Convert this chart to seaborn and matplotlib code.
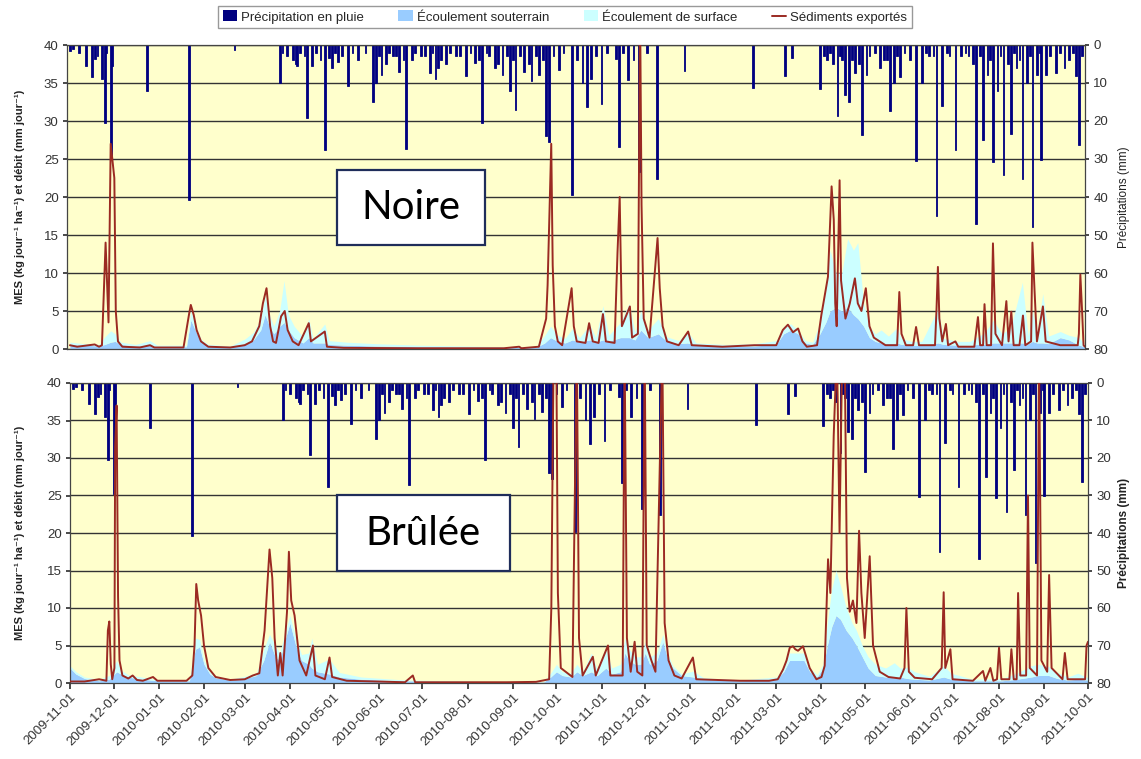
import numpy as np
import pandas as pd
import matplotlib
matplotlib.use("Agg")
import matplotlib.pyplot as plt
import matplotlib.dates as mdates
from matplotlib.patches import Patch, Rectangle
from matplotlib.lines import Line2D
import seaborn as sns

# ---------------- data (jour = days since 2009-11-01) ----------------
debut = "2009-11-01"
fin = "2011-10-01"

# rain (mm), same for both watersheds: (jour, mm)
pluie = [(2, 1.5), (13, 5.5), (17, 8.4), (19, 3.8), (24, 9), (26, 20.5), (30, 29.5), (31, 5.5),
         (55, 12), (84, 40.8), (115, 1.2), (146, 10), (155, 4), (157, 5), (158, 5.5), (165, 19.3),
         (168, 5.6), (177, 27.7), (180, 3.5), (182, 6), (186, 4.5), (193, 10.9), (210, 14.9),
         (212, 10), (216, 8), (224, 3), (228, 7), (233, 27.3), (237, 4), (243, 3), (249, 7.3),
         (253, 9), (257, 4), (260, 5), (267, 3), (274, 8.2), (280, 4.7), (285, 20.6), (290, 3),
         (294, 6), (299, 8), (304, 12), (308, 17), (314, 7), (319, 9.5), (324, 7.8), (329, 24),
         (331, 25.5), (338, 6.5), (347, 39.6), (354, 10), (357, 16.2), (360, 9), (367, 15.5),
         (377, 3.8), (379, 26.8), (385, 9.1), (393, 33.5), (405, 35.2), (424, 6.9), (471, 11.3),
         (493, 8.2), (498, 3.4), (517, 11.6), (522, 4), (526, 5), (529, 18.8), (532, 4),
         (534, 13.1), (537, 14.9), (541, 7.3), (544, 5), (546, 23.7), (549, 8), (558, 6),
         (561, 4), (565, 17.5), (568, 10), (572, 8.5), (583, 30.4), (587, 10), (592, 3),
         (597, 45), (601, 16), (606, 3), (610, 27.7), (614, 3), (619, 3), (624, 47), (629, 25),
         (632, 8), (636, 30.8), (639, 12), (643, 34.3), (646, 5), (648, 23.3), (652, 6),
         (656, 35.2), (659, 10), (663, 48), (666, 8), (669, 30.2), (672, 8), (679, 7.3),
         (685, 6), (693, 8.2), (695, 26.4)]

# small daily rains (mm)
pluie_faible = [(4, 1), (8, 2), (21, 3), (27, 2), (148, 2), (151, 3), (160, 2), (163, 3), (171, 2),
                (174, 4), (184, 2), (189, 3), (196, 2), (200, 4), (205, 2), (214, 3), (219, 5),
                (221, 2), (226, 3), (231, 4), (239, 2), (246, 3), (251, 2), (255, 6), (263, 2),
                (270, 3), (277, 2), (283, 4), (288, 2), (296, 5), (302, 3), (306, 4), (311, 3),
                (317, 5), (322, 3), (327, 4), (334, 3), (341, 2), (350, 4), (363, 3), (371, 2),
                (382, 2), (389, 4), (398, 2), (520, 3), (524, 2), (531, 3), (539, 4), (551, 3),
                (555, 2), (563, 4), (570, 3), (575, 2), (579, 4), (590, 2), (595, 3), (604, 2),
                (617, 2), (622, 5), (627, 3), (634, 4), (641, 3), (650, 2), (654, 4), (661, 3),
                (668, 2), (675, 3), (682, 2), (688, 4), (691, 2), (697, 3)]

# Noire: exported sediments (kg/jour/ha): (jour, valeur)
noire_sed = [(2, 0.5), (7, 0.3), (19, 0.6), (22, 0.3), (24, 0.5), (26.5, 14), (28.5, 3.5), (30, 27),
             (32.5, 22.5), (33.5, 5), (35, 1), (38, 0.3), (50, 0.2), (57, 0.5), (60, 0.2), (80, 0.2),
             (84, 4.8), (85, 5.8), (87, 4.5), (89, 2.5), (92, 1), (97, 0.3), (112, 0.2), (122, 0.5),
             (127, 1), (132, 3), (134.5, 6), (137, 8), (139.5, 3), (141.5, 1), (143.5, 0.8),
             (147, 4.3), (149.5, 5), (151.5, 2.5), (155, 1), (159, 0.5), (166, 3.4), (167.5, 1),
             (177, 2.3), (178.5, 0.3), (190, 0.15), (240, 0.1), (300, 0.1), (310.5, 0.3), (312, 0.1),
             (324, 0.3), (329, 4), (330, 8.4), (332.5, 27), (333.5, 11), (335, 3), (337, 1),
             (340, 0.5), (346.5, 8), (348, 3), (350, 1), (356, 0.8), (358.5, 3.4), (361, 1),
             (365, 0.8), (368, 4.6), (370, 1), (376, 0.8), (378, 12.7), (379.5, 20), (381, 3),
             (386.5, 5.6), (388, 1.5), (392, 2), (393.5, 45), (394.5, 19), (396, 4), (400, 1.5),
             (405.5, 14.6), (407, 8), (409, 3), (412, 1), (420, 0.5), (426.5, 2.3), (429, 0.5),
             (450, 0.3), (472, 0.5), (487, 0.5), (491.5, 2.5), (495, 3.2), (498.5, 2.2), (502, 2.7),
             (505, 1), (508, 0.3), (515, 0.5), (518, 4.5), (522.5, 9.5), (525, 21.4), (526.5, 17),
             (527.5, 6), (528.5, 3), (530.5, 22.2), (531.5, 9), (534.5, 4), (537.5, 6), (541, 9.3),
             (543, 6), (545.5, 5), (548.5, 8), (551, 3), (554, 1.5), (562, 0.5), (570, 0.5),
             (571.5, 7.5), (573, 2), (576, 0.5), (581, 0.5), (583, 2.9), (585, 0.5), (596, 0.5),
             (597, 5), (598, 10.8), (599, 4), (601, 1), (603.5, 3.3), (605, 0.5), (610, 1),
             (612, 0.3), (623, 0.3), (625.5, 4.2), (627, 0.5), (629, 0.5), (630, 5.9), (631.5, 0.5),
             (634.5, 0.5), (635.8, 13.9), (637.5, 2), (642, 0.5), (645, 6.3), (646.5, 1),
             (648.4, 4.9), (650, 0.5), (654, 0.5), (656.4, 4.4), (658, 0.5), (662, 1), (662.9, 14),
             (664.4, 7.5), (666, 1), (670.1, 5.6), (672, 1), (682, 0.5), (694, 0.5), (694.8, 2),
             (695.8, 9.8), (697, 5), (698, 0.5), (699, 0.3)]

# Noire flows (mm/jour): (jour, souterrain, surface)
noire_debit = [(2, 0.6, 0.3), (12, 0.5, 0.2), (22, 0.4, 0.2), (26, 0.6, 1.0), (30, 0.9, 1.5),
               (33, 1.0, 1.0), (37, 0.6, 0.3), (47, 0.4, 0.2), (57, 0.5, 0.6), (62, 0.3, 0.2),
               (82, 0.3, 0.2), (85, 3.8, 1.2), (88, 2.5, 0.7), (92, 1.0, 0.3), (97, 0.4, 0.2),
               (112, 0.3, 0.1), (122, 0.7, 0.6), (128, 1.2, 1.0), (133, 2.5, 1.5), (136, 4.5, 2.5),
               (139, 3, 1.5), (142, 2, 1), (146, 3, 2), (149, 3.5, 5.5), (152, 2.5, 2), (156, 1.5, 1.5),
               (162, 0.8, 0.8), (166, 1.5, 2.5), (169, 0.8, 0.6), (177, 0.8, 2.5), (180, 0.6, 0.5),
               (192, 0.5, 0.4), (212, 0.4, 0.3), (242, 0.3, 0.2), (302, 0.2, 0.1), (322, 0.2, 0.1),
               (328, 0.8, 1.0), (332, 1.5, 1.5), (337, 1.0, 0.8), (342, 0.8, 0.6), (347, 1.2, 1.5),
               (352, 0.9, 0.6), (359, 1.2, 2.0), (363, 0.9, 0.6), (368, 1.2, 4.5), (372, 1.0, 0.8),
               (380, 1.5, 2.0), (386, 1.5, 4.5), (390, 1.2, 1.0), (394, 2.5, 2.5), (399, 1.5, 1.0),
               (406, 2.0, 2.0), (412, 1.0, 0.6), (420, 0.7, 0.4), (426, 0.8, 1.5), (432, 0.5, 0.3),
               (452, 0.4, 0.2), (472, 0.4, 0.3), (487, 0.6, 0.5), (492, 2.0, 1.0), (497, 2.5, 0.8),
               (502, 2.0, 0.5), (507, 0.8, 0.3), (512, 0.6, 0.3), (517, 2.0, 1.5), (521, 3.5, 5.0),
               (524, 5.0, 8.0), (528, 5.5, 4.5), (532, 5.0, 5.0), (536, 5.5, 9.0), (540, 4.5, 8.5),
               (543, 4.0, 10.0), (547, 3.0, 3.0), (551, 1.5, 1.5), (555, 1.0, 1.0), (559, 0.8, 1.7),
               (564, 0.7, 1.0), (570, 0.8, 2.0), (573, 0.6, 0.8), (580, 0.5, 0.5), (587, 0.5, 0.5),
               (598, 0.8, 4.5), (602, 0.6, 0.8), (612, 0.5, 0.5), (620, 0.5, 0.5), (625, 0.6, 1.0),
               (630, 0.6, 1.5), (636, 0.8, 3.0), (642, 0.8, 1.2), (648, 0.8, 2.0), (656, 0.8, 8.0),
               (660, 0.7, 1.0), (663, 1.0, 4.0), (666, 0.8, 1.5), (670, 0.8, 6.5), (674, 0.7, 1.0),
               (682, 1.5, 0.8), (688, 1.2, 0.6), (695, 0.5, 1.0), (699, 0.3, 0.2)]

# Brûlée: exported sediments
brulee_sed = [(0, 0.2), (10, 0.2), (20, 0.5), (25, 0.3), (26, 7), (27, 8.2), (28, 2.5), (29, 0.5),
              (30.5, 2), (31, 31.5), (32, 37), (33, 11.5), (34, 3), (36, 1), (40, 0.6), (43, 1),
              (46, 0.4), (50, 0.3), (57, 0.8), (60, 0.3), (80, 0.3), (84, 1), (85.5, 5), (86.7, 13.2),
              (88, 11), (89, 10), (90, 9), (92, 5), (95, 2), (100, 0.8), (110, 0.4), (120, 0.5),
              (125.5, 1), (130, 1.3), (133.6, 7), (137, 17.8), (138.9, 14), (140.5, 6), (142.7, 1),
              (144.4, 4), (146, 1), (149, 9.5), (150.3, 17.5), (151.9, 11), (154.2, 9), (157.6, 3),
              (162.2, 1), (166.8, 5), (168.5, 1), (175, 0.5), (178.2, 3.4), (180, 0.8), (190, 0.3),
              (230, 0.1), (235.4, 1), (237, 0.1), (300, 0.1), (320, 0.15), (329, 0.5), (330.5, 10),
              (332.1, 45), (333.9, 45), (335, 12), (337, 2), (345, 0.8), (348, 45), (349.5, 6),
              (352, 1), (359, 3.5), (361, 1), (369.4, 5), (371, 1), (379.5, 1), (380.8, 45),
              (382.4, 6), (385, 1.5), (387.7, 5.5), (389.5, 1.5), (393, 1), (394.6, 45), (396, 5),
              (399.2, 3), (402, 1.5), (406.7, 45), (408.3, 8), (411, 3), (415, 1), (420, 0.6),
              (427.7, 3.4), (430, 0.5), (460, 0.3), (480, 0.3), (486, 0.5), (489.6, 1.8), (492, 3),
              (494.2, 4.7), (496.4, 4.9), (498, 4.5), (499.9, 4.3), (503.3, 4.9), (507.9, 2),
              (512.5, 0.5), (516, 0.8), (518.2, 2.3), (519.3, 9), (520.5, 16.5), (522.1, 12),
              (524.4, 33), (526.6, 45), (528.4, 20), (530.3, 45), (531.9, 45), (533.5, 14),
              (535.4, 9.5), (537.6, 11), (540, 8), (541.8, 20.3), (543.4, 12), (545.7, 6),
              (549.1, 16.9), (551.4, 5), (556, 1.5), (562, 0.8), (570, 0.6), (573, 2), (574.3, 10),
              (576, 1.5), (580, 0.7), (592, 0.5), (598.5, 2), (599.9, 12.1), (601, 2), (604.5, 4.5),
              (606, 0.5), (620, 0.3), (626.9, 1.6), (628.5, 0.3), (632, 2), (634, 0.3), (636.5, 0.5),
              (637.9, 4.7), (639.5, 0.5), (645, 0.5), (646.4, 4.5), (648, 0.5), (650, 0.5), (651, 12),
              (652.5, 1), (656.5, 1), (657.8, 25), (659, 2), (664, 1), (665.4, 45), (667, 3),
              (671, 1.5), (672.3, 14.4), (674, 2), (681.5, 0.5), (683.1, 4), (685, 0.5), (697, 0.5),
              (698, 5), (699, 5.5)]

# Brûlée flows: (jour, souterrain, surface)
brulee_debit = [(0, 2.0, 0.3), (4, 1.2, 0.3), (10, 0.6, 0.2), (20, 0.3, 0.2), (27, 0.5, 0.5),
                (32, 1.5, 1.5), (35, 1.2, 0.5), (40, 0.8, 0.3), (46, 0.6, 0.3), (55, 0.4, 0.2),
                (60, 0.3, 0.1), (82, 0.3, 0.1), (86, 4.5, 1.5), (89, 4.8, 1.0), (92, 2.5, 0.5),
                (96, 1.2, 0.3), (100, 0.7, 0.2), (110, 0.4, 0.1), (120, 0.6, 0.3), (128, 1.0, 0.3),
                (133, 3.0, 1.5), (137, 5.5, 1.0), (141, 3.5, 1.5), (144, 3.0, 1.0), (148, 6.0, 1.0),
                (151, 8.0, 1.0), (155, 5.0, 1.0), (159, 3.0, 0.8), (164, 2.5, 1.5), (166, 2.0, 4.0),
                (170, 1.5, 1.0), (178, 1.2, 2.0), (185, 0.8, 0.6), (200, 0.5, 0.3), (230, 0.3, 0.1),
                (300, 0.1, 0.05), (325, 0.1, 0.05), (330, 0.8, 0.5), (334, 1.5, 1.0), (338, 1.0, 0.5),
                (344, 0.8, 0.5), (348, 1.5, 1.0), (352, 1.0, 0.5), (358, 1.5, 2.5), (362, 1.0, 0.8),
                (368, 2.0, 2.5), (372, 1.2, 0.8), (378, 1.5, 1.0), (381, 4.0, 2.0), (384, 3.0, 1.5),
                (388, 2.5, 1.0), (392, 2.5, 1.0), (395, 4.0, 1.5), (398, 2.5, 1.0), (403, 3.0, 1.0),
                (407, 5.5, 1.0), (410, 3.5, 0.5), (414, 2.0, 0.3), (420, 1.0, 0.2), (428, 0.8, 0.8),
                (435, 0.5, 0.2), (460, 0.3, 0.1), (485, 0.5, 0.3), (490, 1.5, 0.5), (494, 3.0, 1.0),
                (500, 3.0, 1.0), (504, 3.0, 1.0), (508, 1.5, 0.5), (513, 0.8, 0.3), (517, 2.0, 0.5),
                (520, 5.0, 3.0), (523, 7.5, 5.0), (526, 9.0, 6.0), (529, 8.5, 4.5), (533, 7.0, 3.0),
                (537, 6.0, 2.0), (540, 5.0, 2.0), (544, 3.5, 1.5), (548, 2.0, 1.5), (553, 1.0, 1.5),
                (560, 0.8, 1.2), (566, 0.7, 2.0), (570, 0.8, 1.2), (575, 0.6, 1.5), (580, 0.5, 1.0),
                (590, 0.4, 0.5), (600, 0.8, 1.5), (605, 0.5, 0.8), (620, 0.3, 0.2), (640, 0.3, 0.3),
                (650, 0.5, 0.8), (660, 0.8, 1.5), (665, 1.0, 1.5), (672, 1.0, 1.2), (678, 0.6, 0.8),
                (685, 0.4, 0.4), (692, 0.5, 0.8), (699, 0.4, 0.3)]

legend_labels = ["Précipitation en pluie", "Écoulement souterrain",
                 "Écoulement de surface", "Sédiments exportés"]
ylabel_left = "MES (kg jour⁻¹ ha⁻¹) et débit (mm jour⁻¹)"
ylabel_right = "Précipitations (mm)"

# ---------------- style ----------------
C_RAIN = "#000080"
C_GW = "#99CCFF"
C_SF = "#CCFFFF"
C_SED = "#9B2A22"
C_BG = "#FFFFCC"
C_GRID = "#333333"

sns.set_theme(style="white")
plt.rcParams["font.family"] = ["Liberation Sans", "DejaVu Sans"]

t0 = pd.Timestamp(debut)


def to_dates(jours):
    return t0 + pd.to_timedelta(np.asarray(jours, dtype=float), unit="D")


fig = plt.figure(figsize=(11.41, 7.59), dpi=100)
W, H = 1141.0, 759.0
ax_top = fig.add_axes([67 / W, 1 - 349 / H, (1085 - 67) / W, (349 - 45) / H])
ax_bot = fig.add_axes([70 / W, 1 - 683 / H, (1088 - 70) / W, (683 - 383) / H])

panels = [
    (ax_top, noire_sed, noire_debit, "Noire", (0.265, 0.342, 0.146, 0.247), False),
    (ax_bot, brulee_sed, brulee_debit, "Brûlée", (0.262, 0.373, 0.170, 0.253), True),
]

pl = np.array(pluie + pluie_faible, dtype=float)
pl_dates = to_dates(pl[:, 0])

for ax, sed, deb, name, box, is_bottom in panels:
    axr = ax.twinx()
    ax.set_zorder(axr.get_zorder() + 1)
    ax.patch.set_visible(False)
    axr.patch.set_visible(True)
    axr.patch.set_facecolor(C_BG)

    # rain on inverted secondary axis
    axr.bar(pl_dates, pl[:, 1], width=1.2, color=C_RAIN, edgecolor=C_RAIN,
            linewidth=0.6, align="center")
    axr.set_ylim(80, 0)
    axr.set_yticks(np.arange(0, 81, 10))
    axr.yaxis.grid(True, color=C_GRID, linewidth=1.0)
    axr.set_axisbelow(True)
    axr.tick_params(axis="y", direction="out", length=3, labelsize=9.5, colors="#333333", pad=3)
    for s in axr.spines.values():
        s.set_visible(False)

    # flows (stacked areas)
    d = np.array(deb, dtype=float)
    dd = to_dates(d[:, 0])
    ax.fill_between(dd, 0, d[:, 1], color=C_GW, linewidth=0, zorder=1)
    ax.fill_between(dd, d[:, 1], d[:, 1] + d[:, 2], color=C_SF, linewidth=0, zorder=1)

    # sediments
    s_arr = np.array(sed, dtype=float)
    df = pd.DataFrame({"date": to_dates(s_arr[:, 0]), "sed": s_arr[:, 1]})
    sns.lineplot(data=df, x="date", y="sed", ax=ax, color=C_SED, linewidth=1.4,
                 estimator=None, zorder=3)

    ax.set_ylim(0, 40)
    ax.set_yticks(np.arange(0, 41, 5))
    ax.set_xlim(pd.Timestamp(debut), pd.Timestamp(fin))
    ax.set_xlabel("")
    ax.set_ylabel("")
    ax.tick_params(axis="y", direction="out", length=3, labelsize=9.5, colors="#333333",
                   left=True, pad=3)
    for s in ax.spines.values():
        s.set_color("#444444")
        s.set_linewidth(0.9)

    ax.xaxis.set_major_locator(mdates.MonthLocator())
    ax.xaxis.set_major_formatter(mdates.DateFormatter("%Y-%m-%d"))
    if is_bottom:
        ax.tick_params(axis="x", direction="out", length=4, labelsize=9.5, colors="#333333",
                       bottom=True, pad=2)
        for lab in ax.get_xticklabels():
            lab.set_rotation(45)
            lab.set_ha("right")
            lab.set_rotation_mode("anchor")
    else:
        ax.tick_params(axis="x", bottom=False, labelbottom=False)

    # panel label box
    ax.add_patch(Rectangle((box[0], box[1]), box[2], box[3], transform=ax.transAxes,
                           facecolor="white", edgecolor="#1F2D5A", linewidth=1.6, zorder=5))
    ax.text(box[0] + box[2] / 2, box[1] + box[3] / 2, name, transform=ax.transAxes,
            ha="center", va="center", fontsize=29, family=["Lato", "DejaVu Sans"],
            color="black", zorder=6)

    # axis labels
    ypos = ax.get_position().y0 + ax.get_position().height / 2
    fig.text(20 / W, ypos, ylabel_left, rotation=90, ha="center", va="center",
             fontsize=8, fontweight="bold", color="#222222")
    fig.text(1124 / W, ypos, ylabel_right, rotation=90, ha="center", va="center",
             fontsize=8.5, fontweight=("bold" if is_bottom else "normal"), color="#222222")

# legend
handles = [Patch(facecolor=C_RAIN, edgecolor="none"),
           Patch(facecolor=C_GW, edgecolor="none"),
           Patch(facecolor=C_SF, edgecolor="none"),
           Line2D([0], [0], color=C_SED, linewidth=1.4)]
leg = fig.legend(handles, legend_labels, loc="center", bbox_to_anchor=(565 / W, 1 - 17 / H),
                 ncol=4, fontsize=9.5, frameon=True, fancybox=False, handlelength=1.1,
                 handleheight=0.9, handletextpad=0.3, columnspacing=2.6, borderpad=0.35)
leg.get_frame().set_edgecolor("#808080")
leg.get_frame().set_linewidth(1.0)

fig.savefig("out.png", dpi=100, facecolor="white")
